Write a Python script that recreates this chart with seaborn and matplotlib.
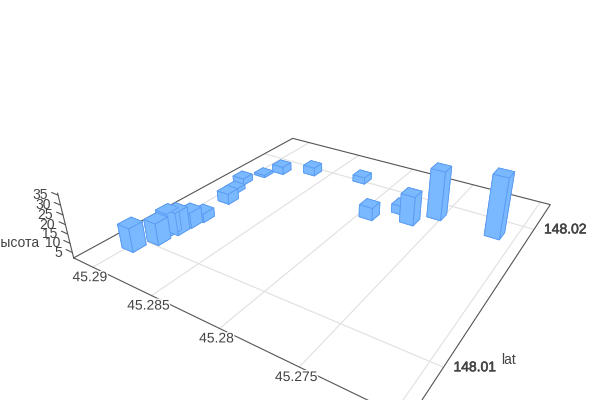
import numpy as np
import pandas as pd
import matplotlib
matplotlib.use('Agg')
import matplotlib.pyplot as plt
import matplotlib.patheffects as pe
import seaborn as sns
from mpl_toolkits.mplot3d import proj3d

lon = [45.28974, 45.28902, 45.2892, 45.28884, 45.28877, 45.28862, 45.28891, 45.28954, 45.28998,
       45.28945, 45.28859, 45.28641, 45.28244, 45.27929, 45.27774, 45.27667, 45.27541, 45.27129]
lat = [148.00947, 148.01041, 148.01117, 148.01143, 148.01218, 148.01286, 148.01476, 148.01575, 148.01670,
       148.01795, 148.01877, 148.01952, 148.02012, 148.01712, 148.01831, 148.01771, 148.0188, 148.01867]
height = [15, 14, 14.7, 14.6, 10.7, 6.8, 8, 4.6, 5.8, 3.3, 6.6, 7, 5.9, 9.1, 6.9, 18.4, 29.8, 35.6]

lon_ticks = [45.29, 45.285, 45.28, 45.275, 45.27]
lon_labels = ['45.29', '45.285', '45.28', '45.275']
lat_ticks = [148.01, 148.02]
height_ticks = [5, 10, 15, 20, 25, 30, 35]

LON_MAX, LON_MIN = 45.2918, 45.2693
LAT_MIN, LAT_MAX = 148.00753, 148.0227
Z_MIN, Z_MAX = 2, 36
BAR_LON, BAR_LAT = 0.001, 0.0007

TEXT = '#444444'
AXIS = '#555555'
GRID = '#e0e0e0'

sns.set_theme(style='white')
plt.rcParams['font.family'] = ['Liberation Sans', 'DejaVu Sans']

df = pd.DataFrame({'lon': lon, 'lat': lat, 'height': height})

fig = plt.figure(figsize=(6, 4), dpi=100)
# camera fitted to the floor corners, the box runs off the bottom of the canvas
size, cx, cy = 488.43, 323.56, 206.08
ax = fig.add_axes([(cx - size / 2) / 600, (400 - cy - size / 2) / 400, size / 600, size / 400], projection='3d')
ax.set_proj_type('persp', focal_length=0.2227)
ax.view_init(elev=28.36, azim=-57.12)
ax.set_box_aspect((1, 1.0008, 0.1974))
ax.set_xlim(LON_MAX, LON_MIN)
ax.set_ylim(LAT_MIN, LAT_MAX)
ax.set_zlim(Z_MIN, Z_MAX)
ax.set_axis_off()
ax.computed_zorder = False

# floor grid
for t in lon_ticks:
    ax.plot([t, t], [LAT_MIN, LAT_MAX], [Z_MIN, Z_MIN], color=GRID, lw=0.8, zorder=1, clip_on=False)
for t in lat_ticks:
    ax.plot([LON_MAX, LON_MIN], [t, t], [Z_MIN, Z_MIN], color=GRID, lw=0.8, zorder=1, clip_on=False)

# floor outline and height axis
ax.plot([LON_MAX, LON_MIN, LON_MIN, LON_MAX, LON_MAX], [LAT_MIN, LAT_MIN, LAT_MAX, LAT_MAX, LAT_MIN],
        [Z_MIN] * 5, color=AXIS, lw=0.8, zorder=2, clip_on=False)
ax.plot([LON_MAX, LON_MAX], [LAT_MIN, LAT_MIN], [Z_MIN, Z_MAX], color=AXIS, lw=0.8, zorder=2, clip_on=False)
for t in height_ticks:
    ax.plot([LON_MAX, LON_MAX + 0.0006], [LAT_MIN, LAT_MIN], [t, t], color=AXIS, lw=0.8, zorder=2, clip_on=False)

ax.bar3d(df['lon'] - BAR_LON / 2, df['lat'] - BAR_LAT / 2, Z_MIN, BAR_LON, BAR_LAT, df['height'] - Z_MIN,
         color='#7ab8ff', edgecolor='#5a9cf2', linewidth=0.6, shade=False, zorder=3)


def label(text, x, y, z, dx, dy, **kw):
    px, py, _ = proj3d.proj_transform(x, y, z, ax.get_proj())
    return ax.annotate(text, xy=(px, py), xycoords='data', xytext=(dx, dy), textcoords='offset pixels',
                       color=TEXT, fontsize=10, va='center', annotation_clip=False, zorder=5, **kw)


for t, s in zip(lon_ticks, lon_labels):
    label(s, t, LAT_MIN, Z_MIN, -3, -10, ha='center',
          path_effects=[pe.withStroke(linewidth=2, foreground='white')])
for t in lat_ticks:
    label(str(t), LON_MIN, t, Z_MIN, 10, 0, ha='left',
          path_effects=[pe.withStroke(linewidth=0.4, foreground=TEXT)])
for t in height_ticks:
    label(str(t), LON_MAX, LAT_MIN, t, -10, 0, ha='right')
label('lat', LON_MIN, 148.01, Z_MIN, 58, 7, ha='left')
label('высота', LON_MAX, LAT_MIN, Z_MIN, -35, 15, ha='right')

fig.savefig('out.png', dpi=100)
plt.close(fig)
